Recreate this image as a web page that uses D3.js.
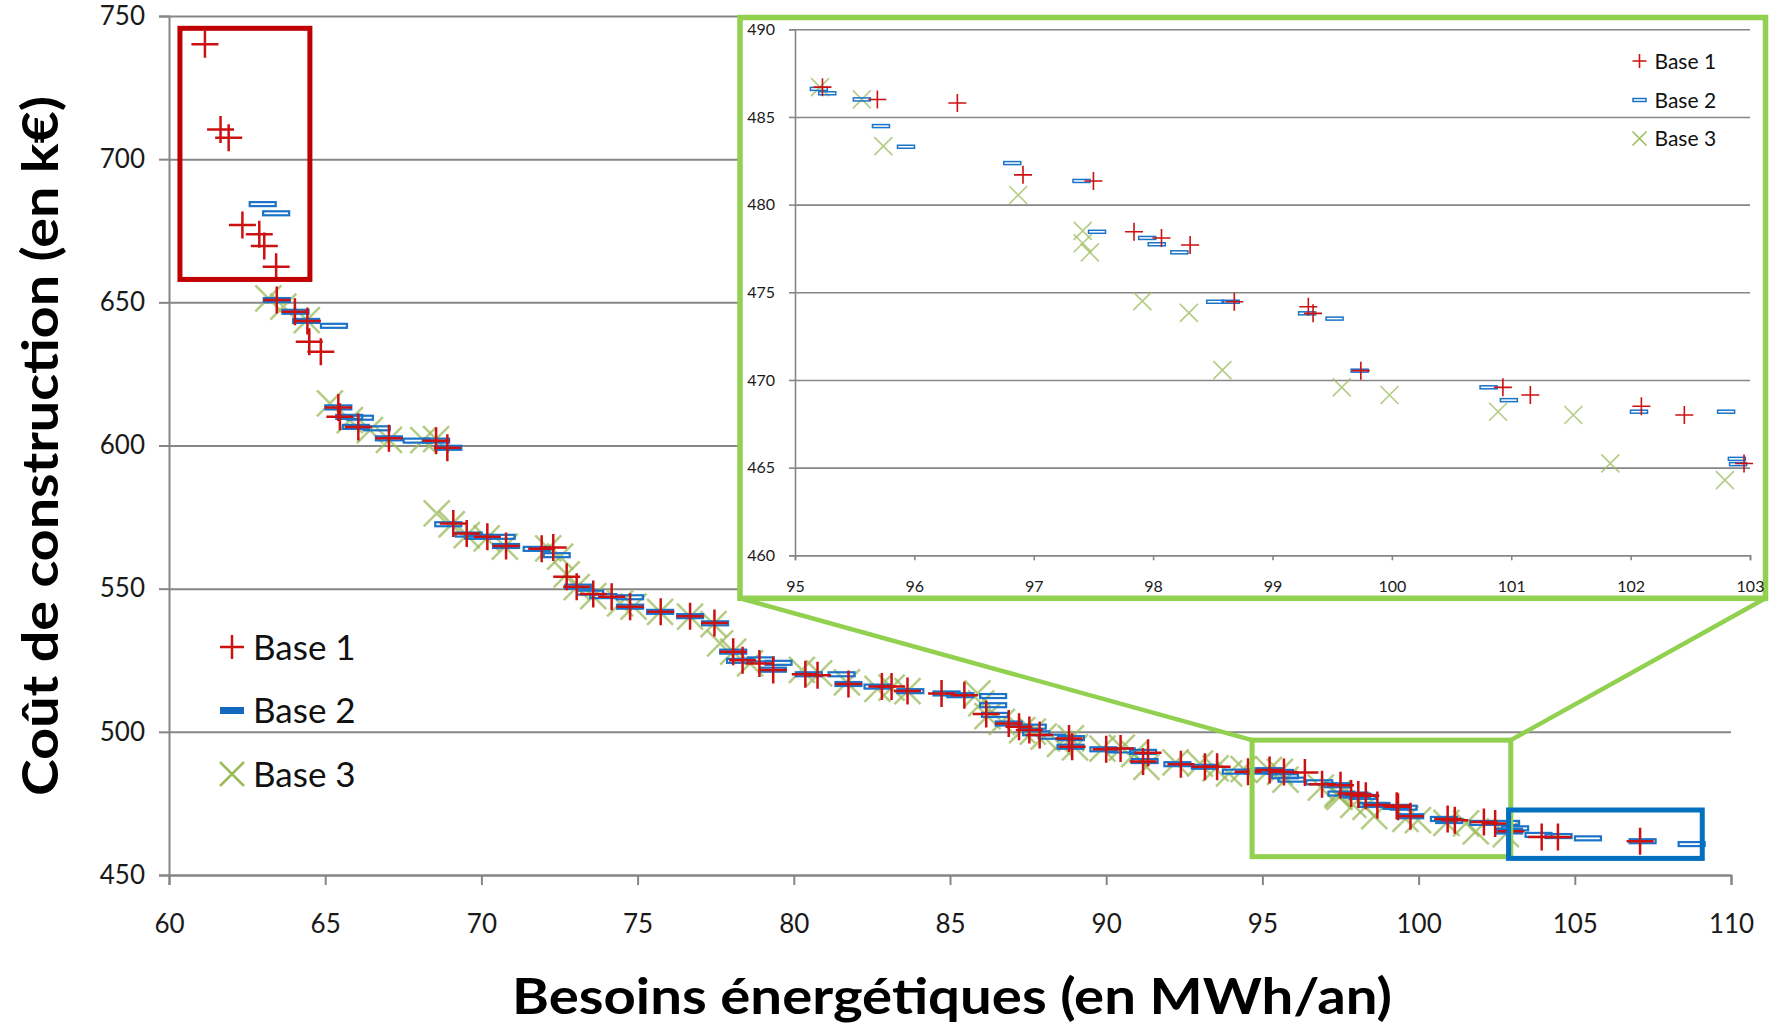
<!DOCTYPE html>
<html>
<head>
<meta charset="utf-8">
<script src="https://cdn.jsdelivr.net/npm/d3@7"></script>
<style>
  body { margin: 0; background: #fff; }
  svg { display: block; }
  text { font-family: Lato, "Open Sans", sans-serif; }
</style>
</head>
<body>
<div id="chart"></div>
<script>
// Series data (x = MWh/an, y = k€)
const seriesNames = ['Base 1', 'Base 2', 'Base 3'];

const base1X = [61.15, 61.65, 61.91, 62.35, 62.89, 63.05, 63.43, 63.45, 64.03, 64.43, 64.49, 64.86,
  65.42, 65.47, 66.06, 67.04, 68.55, 68.91, 69.10, 69.53, 70.19, 70.79, 71.93, 72.30, 72.73, 73.05,
  73.58, 74.17, 74.76, 75.74, 76.68, 77.46, 78.06, 78.36, 78.90, 79.34, 80.37, 80.76, 81.75, 82.82,
  83.13, 83.64, 84.73, 85.46, 86.16, 86.88, 87.21, 87.54, 87.87, 88.81, 88.91, 90.00, 90.46, 91.18,
  91.34, 92.39, 93.16, 93.55, 94.54, 95.23, 95.69, 96.36, 96.91, 97.50, 97.84, 98.07, 98.31, 98.68,
  99.30, 99.34, 99.74, 100.93, 101.16, 102.09, 102.45, 102.95, 103.94, 104.46, 107.09];
const base1Y = [740.1, 710.4, 707.5, 677.0, 673.8, 669.7, 662.4, 650.8, 646.7, 643.5, 636.2, 632.7,
  613.3, 610.0, 606.5, 602.5, 601.7, 599.2, 572.8, 569.3, 568.1, 564.9, 563.9, 564.4, 554.2, 550.7,
  548.1, 547.2, 543.7, 541.9, 540.4, 538.0, 528.0, 525.0, 523.9, 521.6, 520.1, 519.8, 516.7, 515.8,
  515.8, 514.3, 513.4, 512.8, 506.2, 502.9, 501.8, 500.6, 498.9, 497.7, 494.8, 493.9, 494.2, 489.6,
  492.7, 488.7, 487.8, 487.8, 486.1, 486.7, 486.0, 485.8, 481.7, 481.35, 478.45, 478.1, 477.7, 474.46,
  474.18, 473.8, 470.53, 469.58, 469.14, 468.5, 468.0, 465.24, 463.3, 463.3, 461.8];

const base2X = [63.00, 63.43, 63.45, 64.05, 64.39, 65.28, 65.42, 65.77, 65.98, 66.11, 66.65, 67.04,
  67.93, 68.55, 68.94, 68.94, 69.59, 69.90, 70.65, 70.79, 71.77, 72.41, 73.10, 73.48, 73.90, 74.76,
  74.76, 75.72, 76.68, 77.48, 78.06, 78.28, 78.94, 79.33, 79.51, 80.48, 81.53, 81.75, 82.68, 83.73,
  84.89, 85.33, 86.38, 86.38, 86.44, 86.88, 87.65, 87.76, 88.26, 88.87, 88.86, 89.91, 90.50, 91.18,
  91.23, 92.28, 93.16, 94.15, 94.87, 95.20, 95.27, 95.56, 95.72, 95.93, 96.82, 97.40, 97.53, 97.95,
  98.03, 98.22, 98.52, 98.65, 99.29, 99.52, 99.73, 100.81, 100.98, 102.07, 102.80, 102.89, 102.90,
  103.09, 103.84, 104.48, 105.42, 107.17, 108.74];
const base2Y = [684.3, 681.1, 650.8, 646.7, 643.5, 641.8, 613.3, 610.0, 606.5, 609.7, 606.0, 602.5,
  601.7, 601.7, 599.2, 572.5, 568.9, 568.1, 568.1, 564.9, 563.9, 561.7, 550.7, 548.6, 547.4, 547.0,
  543.7, 541.9, 540.4, 537.9, 528.0, 524.8, 525.3, 521.7, 524.1, 520.1, 520.1, 516.7, 515.8, 514.2,
  513.4, 512.8, 512.5, 509.3, 505.9, 502.9, 501.8, 499.5, 498.3, 497.8, 494.8, 493.9, 493.5, 493.0,
  489.8, 488.7, 487.8, 486.1, 486.1, 486.6, 486.35, 486.0, 484.48, 483.3, 482.37, 481.35, 478.45, 478.1,
  477.74, 477.28, 474.46, 474.46, 473.8, 473.5, 470.53, 469.58, 468.85, 468.19, 468.19, 465.5, 465.2,
  466.3, 464.0, 463.6, 462.8, 461.8, 460.8];

const base3X = [63.18, 63.66, 64.41, 65.15, 65.79, 66.43, 67.04, 68.14, 68.55, 68.57, 69.05, 69.53,
  70.17, 70.75, 72.14, 72.52, 72.73, 73.05, 73.58, 74.44, 74.87, 75.72, 76.68, 77.43, 77.64, 78.06,
  78.60, 80.26, 80.81, 81.70, 82.68, 83.13, 83.64, 85.88, 86.00, 86.20, 86.66, 87.31, 87.65, 88.00,
  88.52, 88.87, 89.00, 89.88, 90.50, 90.90, 91.29, 92.22, 93.00, 93.50, 93.93, 94.40, 95.21, 95.56,
  95.74, 96.87, 97.41, 97.41, 97.47, 97.91, 98.30, 98.58, 99.58, 99.98, 100.89, 101.52, 101.83, 102.79];
const base3Y = [651.4, 648.5, 643.8, 614.7, 608.9, 605.4, 602.0, 601.9, 602.2, 576.3, 572.5, 568.7,
  567.6, 564.7, 564.1, 561.2, 555.0, 550.5, 547.4, 544.9, 543.7, 541.9, 540.2, 537.6, 530.9, 528.0,
  523.9, 521.6, 520.4, 517.3, 515.0, 515.4, 514.2, 513.4, 509.9, 505.5, 503.5, 500.6, 500.1, 498.3,
  495.8, 497.7, 494.6, 494.1, 494.5, 492.2, 487.8, 489.3, 488.9, 487.2, 485.5, 487.0, 486.7, 486.0,
  483.34, 480.55, 478.5, 477.8, 477.28, 474.5, 473.83, 470.56, 469.58, 469.14, 468.19, 468.0, 465.24, 464.29];

// Axis ticks
const xTicks = [60, 65, 70, 75, 80, 85, 90, 95, 100, 105, 110];
const yTicks = [450, 500, 550, 600, 650, 700, 750];
const insetXTicks = [95, 96, 97, 98, 99, 100, 101, 102, 103];
const insetYTicks = [460, 465, 470, 475, 480, 485, 490];

// Highlight boxes in data units: [x0, x1, y0, y1]
const redBox = [60.35, 64.51, 658, 745.7];
const greenBox = [94.67, 102.95, 456.4, 497.1];
const blueBox = [102.88, 109.08, 455.8, 472.7];

const RED = '#cc1111', BLUE = '#1a73c8', GREEN = '#9bbb59';
const GRID = '#868686';

const W = 1771, H = 1029;
const svg = d3.select('#chart').append('svg').attr('width', W).attr('height', H);

// Main scales
const x = d3.scaleLinear().domain([60, 110]).range([169, 1731]);
const y = d3.scaleLinear().domain([450, 750]).range([875, 16]);

// Grid lines
svg.append('g')
    .attr('transform', 'translate(169,0)')
    .call(d3.axisLeft(y).tickValues(yTicks).tickSize(-(1731 - 169)).tickFormat(''))
    .call(g => g.select('.domain').remove())
    .call(g => g.selectAll('line').attr('stroke', GRID).attr('stroke-width', 2));

// Y axis
svg.append('g')
    .attr('transform', 'translate(169,0)')
    .call(d3.axisLeft(y).tickValues(yTicks).tickSize(10).tickPadding(14))
    .call(g => g.select('.domain').attr('stroke', GRID).attr('stroke-width', 2))
    .call(g => g.selectAll('line').attr('stroke', GRID).attr('stroke-width', 2))
    .call(g => g.selectAll('text').attr('font-size', 26).attr('fill', '#1a1a1a')
        .style('font-family', 'Lato, sans-serif'));

// X axis
svg.append('g')
    .attr('transform', 'translate(0,875)')
    .call(d3.axisBottom(x).tickValues(xTicks).tickSize(10).tickPadding(30))
    .call(g => g.select('.domain').attr('stroke', GRID).attr('stroke-width', 2))
    .call(g => g.selectAll('line').attr('stroke', GRID).attr('stroke-width', 2))
    .call(g => g.selectAll('text').attr('font-size', 26).attr('fill', '#1a1a1a')
        .style('font-family', 'Lato, sans-serif'));

// Axis titles
svg.append('text')
    .attr('x', 952).attr('y', 1014)
    .attr('text-anchor', 'middle')
    .attr('font-size', 50).attr('font-weight', 700)
    .attr('textLength', 880).attr('lengthAdjust', 'spacingAndGlyphs')
    .text('Besoins énergétiques (en MWh/an)');

svg.append('text')
    .attr('transform', 'translate(58,446) rotate(-90)')
    .attr('text-anchor', 'middle')
    .attr('font-size', 50).attr('font-weight', 700)
    .attr('textLength', 700).attr('lengthAdjust', 'spacingAndGlyphs')
    .text('Coût de construction (en k€)');

// Marker helpers
function plusPath(cx, cy, s) {
    return `M${cx - s / 2},${cy}h${s}M${cx},${cy - s / 2}v${s}`;
}
function crossPath(cx, cy, s) {
    const h = s / 2;
    return `M${cx - h},${cy - h}L${cx + h},${cy + h}M${cx - h},${cy + h}L${cx + h},${cy - h}`;
}

function drawSeries(g, sx, sy, pts3, pts2, pts1, m) {
    g.append('g').selectAll('path').data(pts3).join('path')
        .attr('d', d => crossPath(sx(d[0]), sy(d[1]), m.cross))
        .attr('stroke', GREEN).attr('stroke-width', m.sw).attr('stroke-opacity', 0.75)
        .attr('fill', 'none');
    g.append('g').selectAll('rect').data(pts2).join('rect')
        .attr('x', d => sx(d[0]) - m.dashW / 2)
        .attr('y', d => sy(d[1]) - m.dashH / 2)
        .attr('width', m.dashW).attr('height', m.dashH)
        .attr('fill', 'none').attr('stroke', BLUE).attr('stroke-width', m.dashSw);
    g.append('g').selectAll('path').data(pts1).join('path')
        .attr('d', d => plusPath(sx(d[0]), sy(d[1]), m.plus))
        .attr('stroke', RED).attr('stroke-width', m.sw).attr('fill', 'none');
}

const pts1 = d3.zip(base1X, base1Y);
const pts2 = d3.zip(base2X, base2Y);
const pts3 = d3.zip(base3X, base3Y);

drawSeries(svg.append('g'), x, y, pts3, pts2, pts1,
    { plus: 27, cross: 26, sw: 2.5, dashW: 26, dashH: 4, dashSw: 2.2 });

// Highlight boxes
function box(b, color) {
    svg.append('rect')
        .attr('x', x(b[0])).attr('y', y(b[3]))
        .attr('width', x(b[1]) - x(b[0])).attr('height', y(b[2]) - y(b[3]))
        .attr('fill', 'none').attr('stroke', color).attr('stroke-width', 5);
}
box(redBox, '#c00000');
box(greenBox, '#92d050');
box(blueBox, '#0070c0');

// Main legend
const legendMain = svg.append('g').attr('transform', 'translate(232,0)');
const legendY = [647, 710.5, 774];
legendMain.append('path').attr('d', plusPath(0, legendY[0], 24))
    .attr('stroke', RED).attr('stroke-width', 2.5);
legendMain.append('rect').attr('x', -12).attr('y', legendY[1] - 3.5).attr('width', 24).attr('height', 7)
    .attr('fill', '#1468bd');
legendMain.append('path').attr('d', crossPath(0, legendY[2], 24))
    .attr('stroke', GREEN).attr('stroke-width', 2.5).attr('fill', 'none');
legendMain.selectAll('text').data(seriesNames).join('text')
    .attr('x', 21).attr('y', (d, i) => legendY[i] + 12.5)
    .attr('font-size', 35).attr('fill', '#111')
    .text(d => d);

// Zoom connector lines
const frame = { x0: 740, y0: 17.5, x1: 1765.5, y1: 598.3 };
svg.append('line')
    .attr('x1', x(greenBox[0])).attr('y1', y(greenBox[3]))
    .attr('x2', frame.x0).attr('y2', frame.y1)
    .attr('stroke', '#92d050').attr('stroke-width', 4.5);
svg.append('line')
    .attr('x1', x(greenBox[1])).attr('y1', y(greenBox[3]))
    .attr('x2', frame.x1).attr('y2', frame.y1)
    .attr('stroke', '#92d050').attr('stroke-width', 4.5);

// Inset panel
const inset = svg.append('g');
inset.append('rect')
    .attr('x', frame.x0).attr('y', frame.y0)
    .attr('width', frame.x1 - frame.x0).attr('height', frame.y1 - frame.y0)
    .attr('fill', '#fff').attr('stroke', '#92d050').attr('stroke-width', 5.5);

const ix = d3.scaleLinear().domain([95, 103]).range([795, 1750]);
const iy = d3.scaleLinear().domain([460, 490]).range([555.3, 29.3]);

inset.append('g')
    .attr('transform', 'translate(795,0)')
    .call(d3.axisLeft(iy).tickValues(insetYTicks).tickSize(-(1750 - 795)).tickFormat(''))
    .call(g => g.select('.domain').remove())
    .call(g => g.selectAll('line').attr('stroke', GRID).attr('stroke-width', 1.6));

inset.append('g')
    .attr('transform', 'translate(795,0)')
    .call(d3.axisLeft(iy).tickValues(insetYTicks).tickSize(6).tickPadding(14))
    .call(g => g.select('.domain').attr('stroke', GRID).attr('stroke-width', 1.6))
    .call(g => g.selectAll('line').attr('stroke', GRID).attr('stroke-width', 1.6))
    .call(g => g.selectAll('text').attr('font-size', 16).attr('fill', '#1a1a1a')
        .style('font-family', 'Lato, sans-serif'));

inset.append('g')
    .attr('transform', 'translate(0,555.3)')
    .call(d3.axisBottom(ix).tickValues(insetXTicks).tickSize(5).tickPadding(20))
    .call(g => g.select('.domain').attr('stroke', GRID).attr('stroke-width', 1.6))
    .call(g => g.selectAll('line').attr('stroke', GRID).attr('stroke-width', 1.6))
    .call(g => g.selectAll('text').attr('font-size', 16).attr('fill', '#1a1a1a')
        .style('font-family', 'Lato, sans-serif'));

const inWin = d => d[0] >= 95 && d[0] <= 103 && d[1] >= 460 && d[1] <= 490;
drawSeries(inset.append('g'), ix, iy, pts3.filter(inWin), pts2.filter(inWin), pts1.filter(inWin),
    { plus: 18, cross: 18, sw: 1.6, dashW: 17, dashH: 3, dashSw: 1.5 });

// Inset legend
const legendIn = inset.append('g').attr('transform', 'translate(1639.5,0)');
const legendInY = [61, 100, 138.5];
legendIn.append('path').attr('d', plusPath(0, legendInY[0], 14))
    .attr('stroke', RED).attr('stroke-width', 1.6);
legendIn.append('rect').attr('x', -6.5).attr('y', legendInY[1] - 1.5).attr('width', 13).attr('height', 3)
    .attr('fill', 'none').attr('stroke', BLUE).attr('stroke-width', 1.5);
legendIn.append('path').attr('d', crossPath(0, legendInY[2], 14))
    .attr('stroke', GREEN).attr('stroke-width', 1.5).attr('fill', 'none');
legendIn.selectAll('text').data(seriesNames).join('text')
    .attr('x', 15).attr('y', (d, i) => legendInY[i] + 7.5)
    .attr('font-size', 21).attr('fill', '#111')
    .text(d => d);
</script>
</body>
</html>
